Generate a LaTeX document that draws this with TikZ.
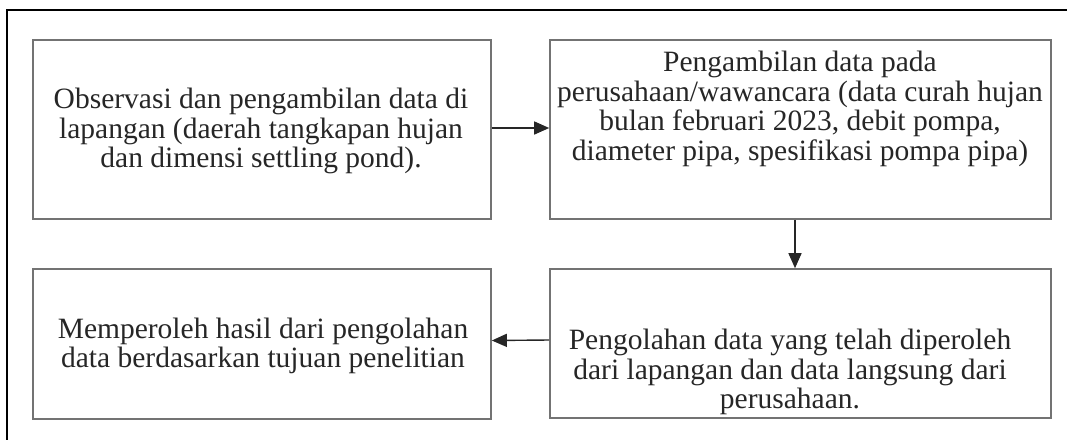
\documentclass[tikz,border=0pt]{standalone}
\usepackage{fontspec}
\setmainfont{Liberation Serif}
\usetikzlibrary{arrows.meta}
\begin{document}
\begin{tikzpicture}[x=1pt,y=-1pt,
  boxstyle/.style={draw=black!55,line width=1.6pt,inner sep=0pt,fill=none},
  txt/.style={align=center,inner sep=0pt,text=black!85,font=\fontsize{29.5}{29.5}\selectfont},
  conn/.style={draw=black!85,line width=1.4pt,-{Triangle[length=15pt,width=13pt]}},
  frame/.style={draw=black,line width=2.2pt}]
\useasboundingbox (0,0) rectangle (1067,439);
\coordinate (fbl) at (7,441);
\coordinate (ftl) at (7,10);
\coordinate (ftr) at (1069,10);
\draw[frame] (fbl) -- (ftl) -- (ftr);

\node[boxstyle,minimum width=458pt,minimum height=179pt] (b1) at (262,129.5) {};
\node[boxstyle,minimum width=501pt,minimum height=179pt] (b2) at (800.5,129.5) {};
\node[boxstyle,minimum width=458pt,minimum height=150pt] (b3) at (262,344) {};
\node[boxstyle,minimum width=501pt,minimum height=149pt] (b4) at (800.5,343.5) {};

\node[txt] (t1) at (261,131) {Observasi dan pengambilan data di\\lapangan (daerah tangkapan hujan\\dan dimensi settling pond).};
\node[txt] (t2) at (800,109) {Pengambilan data pada\\perusahaan/wawancara (data curah hujan\\bulan februari 2023, debit pompa,\\diameter pipa, spesifikasi pompa pipa)};
\node[txt] (t3) at (263,346) {Memperoleh hasil dari pengolahan\\data berdasarkan tujuan penelitian};
\node[txt] (t4) at (790,372) {Pengolahan data yang telah diperoleh\\dari lapangan dan data langsung dari\\perusahaan.};

\draw[conn] ([yshift=1.5pt]b1.east) -- ([yshift=1.5pt]b2.west);
\draw[conn] ([xshift=-5.5pt]b2.south) -- ([xshift=-5.5pt]b4.north);
\draw[conn] ([yshift=3.5pt]b4.west) -- ([yshift=3.5pt]b3.east);
\end{tikzpicture}
\end{document}
